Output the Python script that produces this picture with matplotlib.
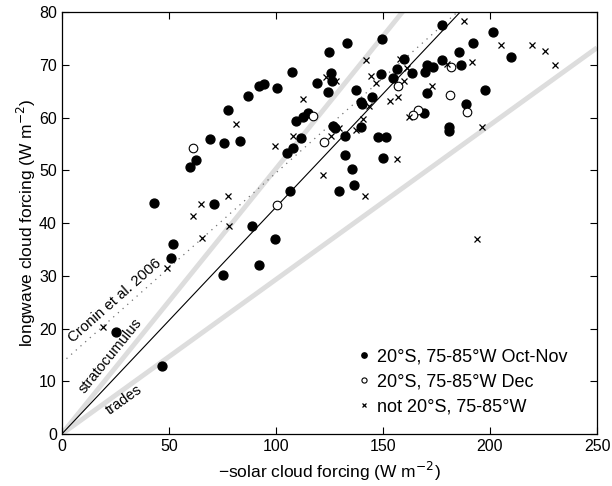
import matplotlib
matplotlib.use("Agg")
import matplotlib.pyplot as plt
import numpy as np

plt.rcParams['font.family'] = ['Liberation Sans', 'DejaVu Sans']

# Oct-Nov (filled)
octnov_x = [43.0, 59.8, 62.6, 69.2, 75.7, 83.2, 77.6, 86.9, 92.3, 94.4, 71.0, 88.8, 51.9, 50.9,
            99.5, 92.1, 75.2, 25.2, 46.7, 105.1, 108.0, 132.2, 135.5, 136.4, 129.4, 106.5, 133.2,
            149.5, 124.8, 107.5, 125.7, 126.2, 119.2, 124.3, 100.5, 109.3, 112.6, 115.0, 111.7,
            126.6, 127.6, 139.7, 132.2, 139.7, 140.2, 144.9, 137.4, 149.0, 147.7, 151.4, 150.0,
            154.7, 156.5, 159.8, 163.6, 169.2, 170.6, 169.6, 170.6, 173.4, 177.6, 177.6, 180.8,
            180.8, 192.0, 185.5, 186.4, 197.7, 188.8, 201.4, 209.8]
octnov_y = [43.9, 50.6, 51.9, 55.9, 55.1, 55.5, 61.4, 64.1, 66.0, 66.3, 43.7, 39.4, 36.1, 33.3,
            36.9, 32.1, 30.2, 19.4, 12.9, 53.2, 54.2, 52.9, 50.2, 47.3, 46.0, 46.0, 74.1,
            74.9, 72.4, 68.6, 68.4, 66.9, 66.5, 64.8, 65.6, 59.3, 60.1, 60.8, 56.1,
            58.4, 58.0, 58.2, 56.5, 62.9, 62.5, 63.9, 65.2, 68.3, 56.3, 56.3, 52.3,
            67.5, 69.2, 71.1, 68.4, 60.8, 64.6, 68.6, 70.0, 69.6, 70.9, 77.6, 58.2,
            57.4, 74.1, 72.4, 70.0, 65.2, 62.5, 76.2, 71.5]

# Dec (open)
dec_x = [61.2, 100.5, 122.4, 117.3, 157.0, 166.4, 164.0, 181.8, 181.3, 189.3]
dec_y = [54.2, 43.5, 55.3, 60.3, 66.0, 61.4, 60.5, 69.6, 64.3, 61.0]

# not 20S (x)
not_x = [81.3, 77.6, 65.0, 61.2, 78.0, 65.4, 49.2, 19.2, 99.5, 122.0, 141.6, 142.1, 123.4, 128.0,
         112.6, 107.9, 125.7, 129.4, 137.4, 140.7, 143.5, 144.4, 146.7, 156.5, 158.0, 161.2,
         159.8, 153.3, 157.0, 162.1, 172.9, 187.9, 191.6, 179.9, 196.3, 205.1, 219.6, 225.7,
         230.4, 193.9]
not_y = [58.7, 45.2, 43.7, 41.4, 39.5, 37.1, 31.4, 20.3, 54.6, 49.2, 45.1, 70.9, 67.7, 66.9,
         63.5, 56.5, 56.5, 58.0, 57.6, 59.7, 62.2, 67.9, 66.5, 52.1, 71.1, 69.4,
         66.9, 63.1, 63.9, 60.1, 66.0, 78.3, 70.5, 70.2, 58.2, 73.8, 73.8, 72.6,
         70.0, 36.9]

# reference lines: slopes / intercepts
fit_slope = 0.43
cronin_slope, cronin_icpt = 0.36, 13.5
sc_slope = 0.503
trades_slope = 0.293

fig = plt.figure(figsize=(6.12, 4.86), dpi=100)
ax = fig.add_axes([0.101, 0.107, 0.8745, 0.868])

xs = np.array([0, 250])
ax.plot(xs, sc_slope * xs, color='#dddddd', lw=3.5, solid_capstyle='butt', zorder=1)
ax.plot(xs, trades_slope * xs, color='#dddddd', lw=3.5, solid_capstyle='butt', zorder=1)
ax.plot(xs, cronin_icpt + cronin_slope * xs, color='0.45', lw=0.9, ls=(0, (1, 4)), zorder=2)
ax.plot(xs, fit_slope * xs, color='black', lw=0.8, zorder=2)

ax.plot(octnov_x, octnov_y, 'o', color='black', ms=6.4, mec='black', zorder=3,
        label='20°S, 75-85°W Oct-Nov')
ax.plot(dec_x, dec_y, 'o', mfc='white', mec='black', ms=6.2, mew=0.8, zorder=3,
        label='20°S, 75-85°W Dec')
ax.plot(not_x, not_y, 'x', color='black', ms=4, mew=0.9, zorder=3,
        label='not 20°S, 75-85°W')

ax.text(24.8, 25.3, 'Cronin et al. 2006', rotation=41.5, ha='center', va='center',
        fontsize=10.8, rotation_mode='anchor')
ax.text(22.5, 14.8, 'stratocumulus', rotation=51, ha='center', va='center',
        fontsize=10.5, rotation_mode='anchor')
ax.text(29, 6.5, 'trades', rotation=35.5, ha='center', va='center',
        fontsize=10.5, rotation_mode='anchor')

ax.set_xlim(0, 250)
ax.set_ylim(0, 80)
ax.set_xticks([0, 50, 100, 150, 200, 250])
ax.set_yticks(range(0, 81, 10))
ax.tick_params(direction='in', top=True, right=True, length=5, width=0.8, labelsize=11.5)
for s in ax.spines.values():
    s.set_linewidth(0.9)
ax.set_xlabel('\u2212solar cloud forcing (W m$^{-2}$)', fontsize=12.5)
ax.set_ylabel('longwave cloud forcing (W m$^{-2}$)', fontsize=12.5, labelpad=1)

leg = ax.legend(loc='lower right', frameon=False, fontsize=13, markerscale=0.6,
                handlelength=0.6, handletextpad=0.4, labelspacing=0.45,
                bbox_to_anchor=(0.975, 0.005))

fig.savefig('out.png', dpi=100)
